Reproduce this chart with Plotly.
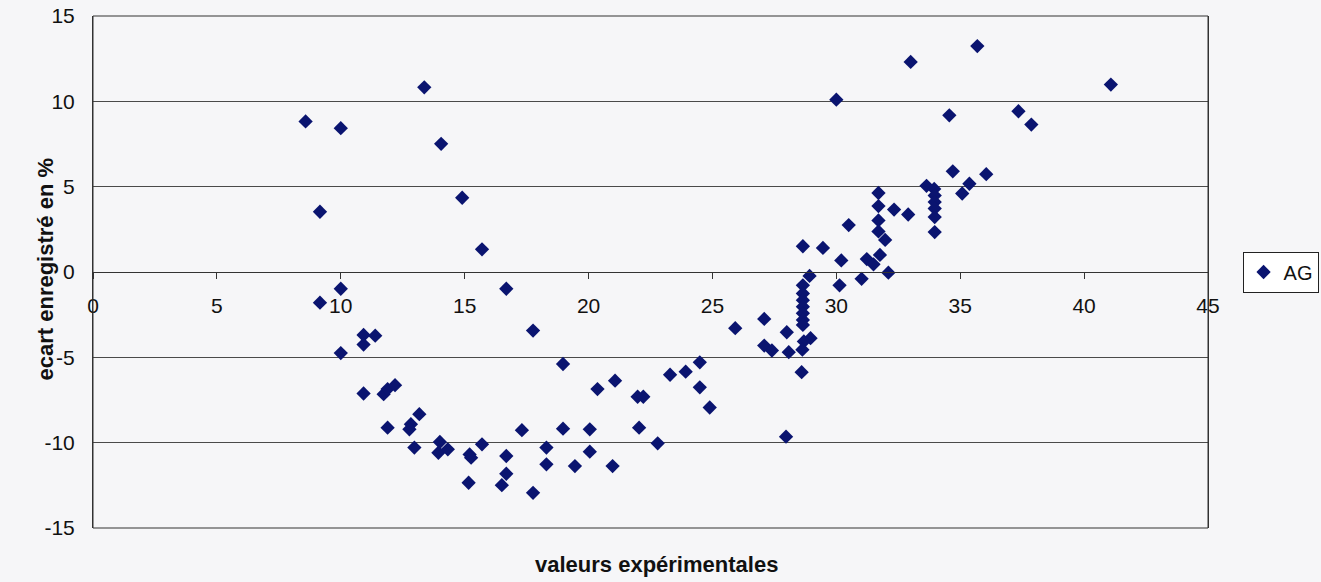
import plotly.graph_objects as go

x_vals = [8.58, 10.0, 13.37, 14.05, 9.16, 14.9, 15.7, 10.0, 9.16, 16.68, 17.76, 10.92, 11.39, 10.92, 10.0,
          18.97, 10.92, 11.73, 11.89, 12.19, 11.89, 13.17, 12.83, 12.77, 12.97, 14.0, 13.94, 14.32, 15.2,
          15.26, 15.7, 15.16, 16.68, 16.68, 16.5, 17.76, 17.31, 18.3, 18.3, 18.97, 19.45, 20.05, 20.05,
          20.36, 21.07, 20.97, 21.98, 22.21, 22.04, 22.79, 23.29,
          23.92, 24.49, 24.49, 24.89, 25.92, 27.09, 27.09, 27.4, 28.0, 28.08, 27.97, 28.6,
          28.92, 28.65, 28.65, 28.65, 28.65, 28.65, 28.65, 28.65, 28.96, 28.69, 28.63,
          28.65, 29.46, 30.2, 30.13, 30.5, 31.02, 31.23, 31.5, 31.76, 32.1, 31.7, 31.7, 32.33, 32.9,
          31.7, 31.7, 31.97, 30.0, 33.0, 35.69, 34.56, 37.35, 37.87, 34.7, 36.05, 35.37, 35.08,
          33.64, 33.95, 33.97, 33.97, 33.97, 33.97, 33.97, 41.08]
y_vals = [8.82, 8.43, 10.82, 7.51, 3.53, 4.35, 1.33, -0.98, -1.8, -0.98, -3.43, -3.69, -3.73, -4.25, -4.75,
          -5.39, -7.12, -7.16, -6.86, -6.63, -9.12, -8.33, -8.92, -9.22, -10.29, -9.96, -10.59, -10.39, -10.69,
          -10.88, -10.1, -12.35, -10.78, -11.82, -12.49, -12.94, -9.27, -10.29, -11.27, -9.18, -11.37, -9.22, -10.53,
          -6.86, -6.37, -11.37, -7.31, -7.31, -9.12, -10.04, -6.02,
          -5.84, -5.29, -6.76, -7.94, -3.29, -2.75, -4.31, -4.6, -3.53, -4.7, -9.65, -5.87,
          -0.23, -0.78, -1.26, -1.65, -2.03, -2.42, -2.81, -3.1, -3.88, -4.07, -4.55,
          1.51, 1.41, 0.68, -0.78, 2.75, -0.4, 0.76, 0.45, 1.0, -0.04, 4.63, 3.86, 3.66, 3.37,
          3.02, 2.38, 1.88, 10.1, 12.31, 13.24, 9.18, 9.42, 8.64, 5.9, 5.73, 5.17, 4.6,
          5.05, 4.87, 4.48, 4.1, 3.72, 3.22, 2.34, 10.98]

series_name = "AG"
x_title = "valeurs expérimentales"
y_title = "ecart enregistré en %"
x_ticks = [0, 5, 10, 15, 20, 25, 30, 35, 40, 45]
y_ticks = [-15, -10, -5, 0, 5, 10, 15]

navy = "#0a1470"
bg = "#f6f6f8"
line_col = "#333333"

fig = go.Figure()
fig.add_trace(go.Scatter(
    x=x_vals, y=y_vals, mode="markers", name=series_name,
    marker=dict(symbol="diamond", size=11, color=navy, line=dict(width=0)),
))

fig.update_layout(
    width=1321, height=582,
    margin=dict(l=93, r=113, t=16, b=54, autoexpand=False),
    paper_bgcolor=bg, plot_bgcolor=bg,
    font=dict(family="Liberation Sans, Arial", size=20, color="#111111"),
    showlegend=True,
    legend=dict(x=1.031, y=0.5, xanchor="left", yanchor="middle",
                bgcolor="#ffffff", bordercolor="#222222", borderwidth=1,
                font=dict(size=20), itemwidth=30, tracegroupgap=0),
    xaxis=dict(range=[0, 45], tickvals=x_ticks, ticktext=[str(v) for v in x_ticks],
               showgrid=False, zeroline=False, showline=True, linecolor=line_col, linewidth=1,
               anchor="free", position=0.5, ticks="outside", ticklen=6, tickcolor=line_col,
               ticklabelstandoff=9, tickfont=dict(size=21)),
    yaxis=dict(range=[-15, 15], tickvals=y_ticks, ticktext=[str(v) for v in y_ticks],
               showgrid=True, gridcolor="#4a4a4a", gridwidth=1, zeroline=False,
               showline=True, linecolor=line_col, linewidth=1, mirror=True,
               ticks="", ticklabelstandoff=13, tickfont=dict(size=21)),
    annotations=[
        dict(text="<b>" + x_title + "</b>", x=0.505, y=-0.072, xref="paper", yref="paper",
             showarrow=False, xanchor="center", yanchor="middle", font=dict(size=22)),
        dict(text="<b>" + y_title + "</b>", x=-0.043, y=0.505, xref="paper", yref="paper",
             showarrow=False, textangle=-90, xanchor="center", yanchor="middle", font=dict(size=22)),
    ],
)
fig.add_shape(type="rect", xref="paper", yref="paper", x0=0, x1=1, y0=0, y1=1,
              line=dict(color=line_col, width=1), fillcolor="rgba(0,0,0,0)", layer="above")

fig.write_html("out.html")
